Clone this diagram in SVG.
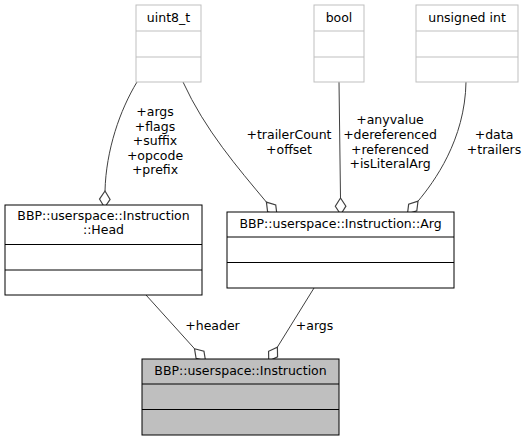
<svg xmlns="http://www.w3.org/2000/svg" width="527" height="441" viewBox="0 0 527 441">
<defs>
<marker id="dia" markerUnits="userSpaceOnUse" markerWidth="20" markerHeight="20" refX="0" refY="0" orient="auto" viewBox="-1 -6 17 12" overflow="visible">
<path d="M0,0 L7,-4.5 L14,0 L7,4.5 Z" fill="#ffffff" stroke="#404040" stroke-width="1"/>
</marker>
</defs>
<style>
text{font-family:"DejaVu Sans",sans-serif;font-size:12.5px;fill:#000}
.t{text-anchor:middle}
.ext{fill:#ffffff;stroke:#bfbfbf;stroke-width:1}
.cls{fill:#ffffff;stroke:#000000;stroke-width:1}
.main{fill:#bfbfbf;stroke:#000000;stroke-width:1}
.e{fill:none;stroke:#404040;stroke-width:1;marker-end:url(#dia)}
</style>
<rect width="527" height="441" fill="#ffffff"/>
<g id="edges">
<path class="e" d="M146,295 L194.5,348.7"/>
<path class="e" d="M314,288 L277.4,347.1"/>
<path class="e" d="M137,82 C120,110 106,150 105,191"/>
<path class="e" d="M183,82 C205,130 238,168 266.4,202.1"/>
<path class="e" d="M339,82 L340.5,198"/>
<path class="e" d="M466,82 C465,140 434,182 418,201.2"/>
<text class="t" x="155" y="116">+args</text>
<text class="t" x="155" y="130.5">+flags</text>
<text class="t" x="155" y="145">+suffix</text>
<text class="t" x="155" y="159.5">+opcode</text>
<text class="t" x="155" y="174">+prefix</text>
<text class="t" x="289" y="139">+trailerCount</text>
<text class="t" x="289" y="153.5">+offset</text>
<text class="t" x="390" y="124">+anyvalue</text>
<text class="t" x="390" y="139">+dereferenced</text>
<text class="t" x="390" y="153.5">+referenced</text>
<text class="t" x="390" y="168">+isLiteralArg</text>
<text class="t" x="494" y="139">+data</text>
<text class="t" x="494" y="153.5">+trailers</text>
<text class="t" x="212.5" y="330">+header</text>
<text class="t" x="314.5" y="330">+args</text>
</g>
<g id="uint8_t">
<rect class="ext" x="136" y="5" width="65" height="77"/>
<line class="ext" x1="136" y1="31" x2="201" y2="31"/>
<line class="ext" x1="136" y1="57" x2="201" y2="57"/>
<text class="t" x="168.5" y="21.5">uint8_t</text>
</g>
<g id="bool">
<rect class="ext" x="314" y="5" width="50" height="77"/>
<line class="ext" x1="314" y1="31" x2="364" y2="31"/>
<line class="ext" x1="314" y1="57" x2="364" y2="57"/>
<text class="t" x="339" y="21.5">bool</text>
</g>
<g id="unsigned_int">
<rect class="ext" x="416" y="5" width="102" height="77"/>
<line class="ext" x1="416" y1="31" x2="518" y2="31"/>
<line class="ext" x1="416" y1="57" x2="518" y2="57"/>
<text class="t" x="467" y="21.5">unsigned int</text>
</g>
<g id="Head">
<rect class="cls" x="5" y="205" width="197" height="90"/>
<line class="cls" x1="5" y1="244.5" x2="202" y2="244.5"/>
<line class="cls" x1="5" y1="270" x2="202" y2="270"/>
<text class="t" x="103.5" y="220">BBP::userspace::Instruction</text>
<text class="t" x="103.5" y="234">::Head</text>
</g>
<g id="Arg">
<rect class="cls" x="227" y="212" width="227" height="76"/>
<line class="cls" x1="227" y1="237" x2="454" y2="237"/>
<line class="cls" x1="227" y1="262.5" x2="454" y2="262.5"/>
<text class="t" x="340.5" y="228">BBP::userspace::Instruction::Arg</text>
</g>
<g id="Instruction">
<rect class="main" x="142" y="359" width="197" height="76"/>
<line class="main" x1="142" y1="384" x2="339" y2="384"/>
<line class="main" x1="142" y1="409.5" x2="339" y2="409.5"/>
<text class="t" x="240.5" y="375">BBP::userspace::Instruction</text>
</g>
</svg>
